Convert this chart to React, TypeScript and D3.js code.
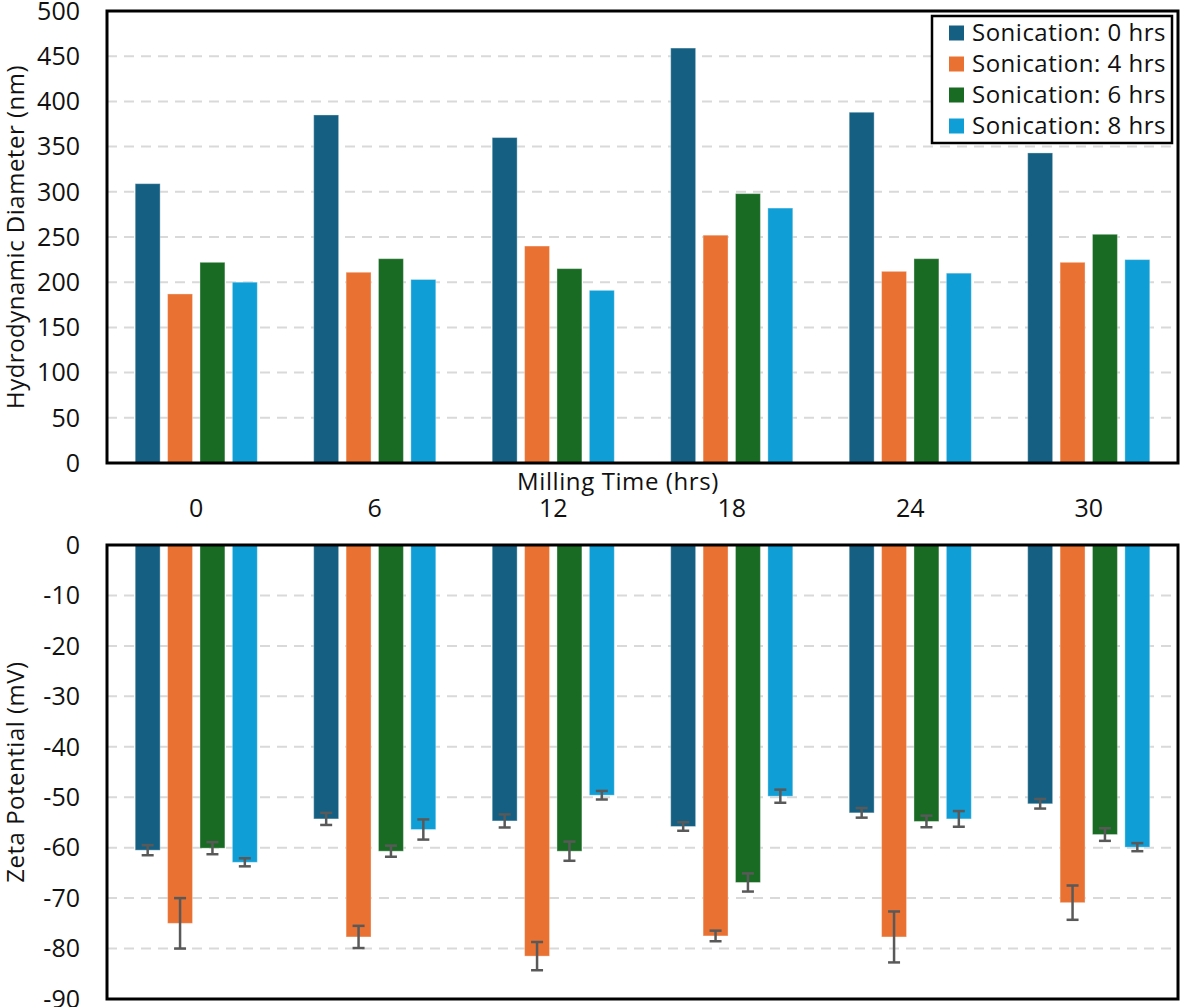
import * as d3 from "d3";

const millingTimes = ["0", "6", "12", "18", "24", "30"];
const seriesNames = [
  "Sonication: 0 hrs",
  "Sonication: 4 hrs",
  "Sonication: 6 hrs",
  "Sonication: 8 hrs",
];
const colors = ["#156082", "#E97132", "#196B24", "#0F9ED5"];

// hydrodynamic diameter (nm), one array per sonication time
const diam0 = [309, 385, 360, 459, 388, 343];
const diam4 = [187, 211, 240, 252, 212, 222];
const diam6 = [222, 226, 215, 298, 226, 253];
const diam8 = [200, 203, 191, 282, 210, 225];

// zeta potential (mV)
const zeta0 = [-60.5, -54.3, -54.7, -55.8, -53.1, -51.3];
const zeta4 = [-75.0, -77.7, -81.5, -77.5, -77.7, -70.9];
const zeta6 = [-60.1, -60.7, -60.7, -66.9, -54.8, -57.4];
const zeta8 = [-62.9, -56.4, -49.6, -49.8, -54.3, -59.9];

// zeta error (+/-)
const err0 = [1.0, 1.2, 1.3, 0.85, 0.95, 0.95];
const err4 = [5.0, 2.2, 2.8, 1.05, 5.05, 3.4];
const err6 = [1.2, 1.1, 1.9, 1.8, 1.15, 1.25];
const err8 = [0.8, 2.0, 0.85, 1.3, 1.55, 0.8];

const diamTicks = [0, 50, 100, 150, 200, 250, 300, 350, 400, 450, 500];
const zetaTicks = [0, -10, -20, -30, -40, -50, -60, -70, -80, -90];

const W = 1182;
const H = 1007;
const FONT = "'Open Sans', 'Noto Sans', sans-serif";
const LEFT = 107;
const RIGHT = 1178;
const TOP1 = { top: 11, bottom: 463 };
const TOP2 = { top: 545, bottom: 999 };

export default function App() {
  const diam = [diam0, diam4, diam6, diam8];
  const zeta = [zeta0, zeta4, zeta6, zeta8];
  const errs = [err0, err4, err6, err8];

  const x = d3.scaleBand<string>().domain(millingTimes).range([LEFT, RIGHT]);
  const B = x.bandwidth();
  // bars take the middle ~68% of each group
  const groupW = B * 0.684;
  const xSub = d3
    .scaleBand<number>()
    .domain([0, 1, 2, 3])
    .range([(B - groupW) / 2, (B + groupW) / 2])
    .paddingInner(0.23);

  const yD = d3.scaleLinear().domain([0, 500]).range([TOP1.bottom, TOP1.top]);
  const yZ = d3.scaleLinear().domain([0, -90]).range([TOP2.top, TOP2.bottom]);

  return (
    <svg
      width={W}
      height={H}
      style={{ position: "absolute", left: 0, top: 0, background: "#fff" }}
      fontFamily={FONT}
    >
      {/* top panel grid */}
      {diamTicks.slice(1, -1).map((t) => (
        <line key={"gd" + t} x1={LEFT} x2={RIGHT} y1={yD(t)} y2={yD(t)}
          stroke="#d9d9d9" strokeWidth={2} strokeDasharray="10 7" />
      ))}
      {/* top bars */}
      {diam.map((vals, s) =>
        vals.map((v, i) => (
          <rect key={"d" + s + "-" + i}
            x={x(millingTimes[i])! + xSub(s)!}
            y={yD(v)}
            width={xSub.bandwidth()}
            height={yD(0) - yD(v)}
            fill={colors[s]}
            stroke="#ffffff" strokeOpacity={0.35} strokeWidth={1} />
        ))
      )}
      <rect x={LEFT} y={TOP1.top} width={RIGHT - LEFT} height={TOP1.bottom - TOP1.top}
        fill="none" stroke="#000" strokeWidth={3} />
      {diamTicks.map((t) => (
        <text key={"td" + t} x={80} y={yD(t)} dy="0.35em" textAnchor="end"
          fontSize={25} fill="#111">{t}</text>
      ))}
      <text transform={`translate(24,${(TOP1.top + TOP1.bottom) / 2}) rotate(-90)`}
        textAnchor="middle" fontSize={24} letterSpacing={0.5} fill="#111">Hydrodynamic Diameter (nm)</text>

      {/* x axis labels */}
      <text x={618} y={490} textAnchor="middle" fontSize={24} letterSpacing={0.6} fill="#111">Milling Time (hrs)</text>
      {millingTimes.map((m) => (
        <text key={"xm" + m} x={x(m)! + B / 2} y={517} textAnchor="middle"
          fontSize={25} fill="#111">{m}</text>
      ))}

      {/* legend */}
      <rect x={932} y={16} width={240} height={127} fill="#fff" stroke="#000" strokeWidth={2.5} />
      {seriesNames.map((n, i) => (
        <g key={n} transform={`translate(949,${33 + i * 31})`}>
          <rect x={0} y={-7.5} width={15} height={15} fill={colors[i]} />
          <text x={23} y={0} dy="0.35em" fontSize={24} letterSpacing={0.5} fill="#111">{n}</text>
        </g>
      ))}

      {/* bottom panel grid */}
      {zetaTicks.slice(1, -1).map((t) => (
        <line key={"gz" + t} x1={LEFT} x2={RIGHT} y1={yZ(t)} y2={yZ(t)}
          stroke="#d9d9d9" strokeWidth={2} strokeDasharray="10 7" />
      ))}
      {zeta.map((vals, s) =>
        vals.map((v, i) => (
          <rect key={"z" + s + "-" + i}
            x={x(millingTimes[i])! + xSub(s)!}
            y={yZ(0)}
            width={xSub.bandwidth()}
            height={yZ(v) - yZ(0)}
            fill={colors[s]}
            stroke="#ffffff" strokeOpacity={0.35} strokeWidth={1} />
        ))
      )}
      {zeta.map((vals, s) =>
        vals.map((v, i) => {
          const cx = x(millingTimes[i])! + xSub(s)! + xSub.bandwidth() / 2;
          const e = errs[s][i];
          const y1 = yZ(v + e);
          const y2 = yZ(v - e);
          return (
            <g key={"e" + s + "-" + i} stroke="#595959" strokeWidth={2.5}>
              <line x1={cx} x2={cx} y1={y1} y2={y2} />
              <line x1={cx - 6} x2={cx + 6} y1={y1} y2={y1} />
              <line x1={cx - 6} x2={cx + 6} y1={y2} y2={y2} />
            </g>
          );
        })
      )}
      <rect x={LEFT} y={TOP2.top} width={RIGHT - LEFT} height={TOP2.bottom - TOP2.top}
        fill="none" stroke="#000" strokeWidth={3} />
      {zetaTicks.map((t) => (
        <text key={"tz" + t} x={80} y={yZ(t)} dy="0.35em" textAnchor="end"
          fontSize={25} fill="#111">{t}</text>
      ))}
      <text transform={`translate(24,${(TOP2.top + TOP2.bottom) / 2}) rotate(-90)`}
        textAnchor="middle" fontSize={24} letterSpacing={0.5} fill="#111">Zeta Potential (mV)</text>
    </svg>
  );
}
